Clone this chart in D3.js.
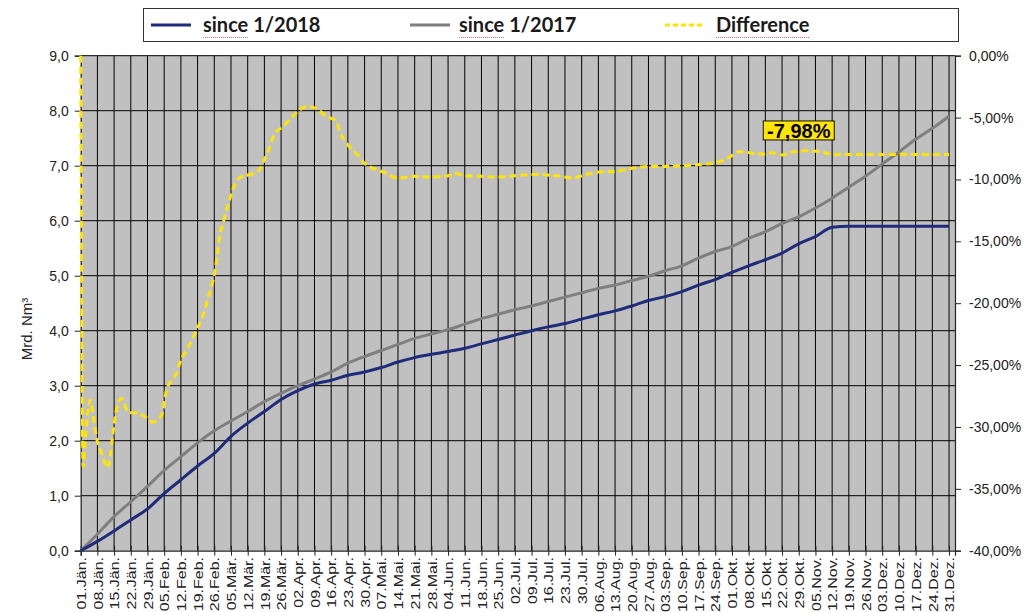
<!DOCTYPE html>
<html><head><meta charset="utf-8">
<script src="https://cdn.jsdelivr.net/npm/d3@7"></script>
<style>body{margin:0;background:#fff;} svg{display:block}</style>
</head><body>
<svg id="c" width="1027" height="612"></svg>
<script>
// ---- data ----
const weekLabels = ["01.Jän.","08.Jän.","15.Jän.","22.Jän.","29.Jän.","05.Feb.","12.Feb.","19.Feb.","26.Feb.",
 "05.Mär.","12.Mär.","19.Mär.","26.Mär.","02.Apr.","09.Apr.","16.Apr.","23.Apr.","30.Apr.","07.Mai.","14.Mai.",
 "21.Mai.","28.Mai.","04.Jun.","11.Jun.","18.Jun.","25.Jun.","02.Jul.","09.Jul.","16.Jul.","23.Jul.","30.Jul.",
 "06.Aug.","13.Aug.","20.Aug.","27.Aug.","03.Sep.","10.Sep.","17.Sep.","24.Sep.","01.Okt.","08.Okt.","15.Okt.",
 "22.Okt.","29.Okt.","05.Nov.","12.Nov.","19.Nov.","26.Nov.","03.Dez.","10.Dez.","17.Dez.","24.Dez.","31.Dez."];
const weekDays = [0,7,14,21,28,35,42,49,56,63,70,77,84,91,98,105,112,119,126,133,140,147,154,161,168,175,182,
 189,196,203,210,217,224,231,238,245,252,259,266,273,280,287,294,301,308,315,322,329,336,343,350,357,364];
const since2018 = [0,0.17,0.36,0.56,0.76,1.04,1.29,1.54,1.77,2.08,2.32,2.53,2.75,2.91,3.03,3.10,3.19,3.25,3.33,3.43,
 3.51,3.57,3.62,3.68,3.76,3.84,3.92,4.00,4.07,4.13,4.21,4.29,4.36,4.45,4.55,4.62,4.71,4.83,4.93,5.06,5.18,5.29,
 5.41,5.58,5.71,5.88,5.90,5.90,5.90,5.90,5.90,5.90,5.90];
const since2017 = [0,0.30,0.62,0.89,1.17,1.46,1.71,1.96,2.18,2.36,2.53,2.71,2.86,3.00,3.12,3.25,3.41,3.53,3.64,3.75,
 3.86,3.94,4.02,4.12,4.22,4.30,4.38,4.45,4.53,4.61,4.69,4.77,4.83,4.91,4.99,5.09,5.18,5.32,5.44,5.53,5.68,5.80,
 5.95,6.07,6.23,6.41,6.61,6.81,7.03,7.25,7.48,7.68,7.90];
const diffDays = [0,1,2,4,5,7,8,10,11,12,13,15,17,20,24,28,30,34,36,40,42,45,49,51,54,56,57,58,60,62,64,67,71,75,77,
 79,81,85,88,91,95,99,103,107,109,112,116,119,124,128,133,140,147,154,157,161,168,175,182,189,196,203,206,210,217,
 224,231,238,245,252,259,266,272,276,286,290,294,299,304,310,313,315,318,364];
const diffValues = [0,-33.2,-30.8,-27.8,-28.7,-31.2,-31.7,-32.8,-33.3,-32.9,-31.3,-28.6,-27.7,-28.8,-28.9,-29.3,-29.6,
 -29.0,-27.0,-25.7,-24.6,-23.6,-22.0,-21.1,-19.2,-17.7,-16.5,-14.9,-13.3,-11.9,-10.7,-9.8,-9.6,-9.2,-8.4,-7.5,-6.4,
 -5.7,-5.1,-4.5,-4.1,-4.3,-4.9,-5.3,-6.3,-7.2,-8.0,-8.7,-9.2,-9.5,-9.9,-9.75,-9.8,-9.7,-9.5,-9.7,-9.75,-9.8,-9.7,
 -9.6,-9.65,-9.8,-9.9,-9.7,-9.4,-9.35,-9.1,-8.95,-8.95,-8.9,-8.8,-8.65,-8.2,-7.76,-7.95,-7.84,-8.02,-7.76,-7.68,
 -7.76,-7.89,-8.02,-7.98,-7.98];
const leftTicks = [0,1,2,3,4,5,6,7,8,9];
const rightTicks = [0,-5,-10,-15,-20,-25,-30,-35,-40];
const seriesNames = ["since 1/2018","since 1/2017","Difference"];
const labelValue = -7.98;
const labelDay = 301;

// ---- layout ----
const svg = d3.select("#c");
const L = 80.7, R = 955, T = 55.7, B = 550.7;
const x = d3.scaleLinear().domain([0, 366.5]).range([L, R]);
const yL = d3.scaleLinear().domain([0, 9]).range([B, T]);
const yR = d3.scaleLinear().domain([-40, 0]).range([B, T]);
const comma = (f) => (d) => d3.format(f)(d).replace(".", ",").replace("\u2212", "-");
const FONT = "Arial, 'Liberation Sans', sans-serif";

svg.append("rect").attr("width",1027).attr("height",612).attr("fill","#fff");
svg.append("rect").attr("x",L).attr("y",T).attr("width",R-L).attr("height",B-T).attr("fill","#c0c0c0");

// gridlines
const g = svg.append("g").attr("stroke","#000").attr("stroke-width",1);
g.selectAll("line.v").data(weekDays.slice(1)).join("line")
  .attr("x1",d=>x(d)).attr("x2",d=>x(d)).attr("y1",T).attr("y2",B);
g.selectAll("line.h").data(leftTicks.slice(1)).join("line")
  .attr("x1",L).attr("x2",R).attr("y1",d=>yL(d)).attr("y2",d=>yL(d));

// axes
const axL = svg.append("g").attr("transform",`translate(${L},0)`)
  .call(d3.axisLeft(yL).tickValues(leftTicks).tickFormat(comma(".1f")).tickSize(6).tickPadding(6));
const axR = svg.append("g").attr("transform",`translate(${R},0)`)
  .call(d3.axisRight(yR).tickValues(rightTicks).tickFormat(d=>comma(".2f")(d)+"%").tickSize(6).tickPadding(8));
const axB = svg.append("g").attr("transform",`translate(0,${B})`)
  .call(d3.axisBottom(x).tickValues(weekDays).tickFormat("").tickSize(5));
[axL,axR,axB].forEach(a=>{
  a.select(".domain").attr("stroke","#222").attr("stroke-width",1.2);
  a.selectAll(".tick line").attr("stroke","#222");
  a.selectAll("text").attr("font-family",FONT).attr("font-size",14).attr("fill","#222");
});
axB.selectAll(".tick").append("line").attr("y1",-5).attr("y2",0).attr("stroke","#222");
svg.append("g").selectAll("text").data(weekDays).join("text")
  .attr("transform",(d)=>`translate(${x(d)+1},557) scale(0.75,1) rotate(-90)`)
  .attr("text-anchor","end").attr("dy","0.35em")
  .attr("font-family",FONT).attr("font-size",16).attr("fill","#222")
  .text((d,i)=>weekLabels[i]);

svg.append("text").attr("transform","translate(27,329) rotate(-90)").attr("text-anchor","middle")
  .attr("dy","0.35em").attr("font-family",FONT).attr("font-size",15).attr("fill","#222")
  .text("Mrd. Nm³");

// series
svg.append("clipPath").attr("id","pc").append("rect").attr("x",L-2).attr("y",T-2).attr("width",R-L+4).attr("height",B-T+4);
const line = d3.line().curve(d3.curveMonotoneX);
svg.append("path").attr("clip-path","url(#pc)").attr("fill","none").attr("stroke","#7f7f7f").attr("stroke-width",3)
  .attr("d", line(weekDays.map((d,i)=>[x(d), yL(since2017[i])])));
svg.append("path").attr("clip-path","url(#pc)").attr("fill","none").attr("stroke","#1f2b7b").attr("stroke-width",3)
  .attr("d", line(weekDays.map((d,i)=>[x(d), yL(since2018[i])])));
svg.append("path").attr("clip-path","url(#pc)").attr("fill","none").attr("stroke","#ffe500").attr("stroke-width",3)
  .attr("stroke-dasharray","7,4")
  .attr("d", line(diffDays.map((d,i)=>[x(d), yR(diffValues[i])])));

// data label
const lx = x(labelDay), ly = yR(labelValue) - 24;
svg.append("rect").attr("x",lx-35.5).attr("y",ly-9.5).attr("width",71).attr("height",19)
  .attr("fill","#ffe500").attr("stroke","#111").attr("stroke-width",1);
svg.append("text").attr("x",lx).attr("y",ly).attr("dy","0.36em").attr("text-anchor","middle")
  .attr("font-family",FONT).attr("font-weight","bold").attr("font-size",20)
  .attr("fill","#000").text(comma(".2f")(labelValue)+"%");

// legend
const lg = svg.append("g");
lg.append("rect").attr("x",143.5).attr("y",8.5).attr("width",815).attr("height",33).attr("fill","#fff")
  .attr("stroke","#333").attr("stroke-width",1);
const items = [
  {name:seriesNames[0], x0:151, color:"#1f2b7b", dash:null, tx:203},
  {name:seriesNames[1], x0:410, color:"#7f7f7f", dash:null, tx:459},
  {name:seriesNames[2], x0:665, color:"#ffe500", dash:"5,3", tx:716}
];
items.forEach(it=>{
  lg.append("line").attr("x1",it.x0).attr("x2",it.x0+40).attr("y1",25).attr("y2",25)
    .attr("stroke",it.color).attr("stroke-width",3).attr("stroke-dasharray",it.dash);
  lg.append("text").attr("x",it.tx).attr("y",32).attr("font-family","Lato, sans-serif")
    .attr("font-weight","bold").attr("font-size",20).attr("fill","#1a1a1a").text(it.name);
  const word = it.name.split(" ")[0];
  const tmp = lg.append("text").attr("font-family","Lato, sans-serif").attr("font-weight","bold")
    .attr("font-size",20).text(word);
  const w = tmp.node().getComputedTextLength(); tmp.remove();
  lg.append("line").attr("x1",it.tx).attr("x2",it.tx+w).attr("y1",37.5).attr("y2",37.5)
    .attr("stroke","#e87070").attr("stroke-width",1).attr("stroke-dasharray","1,1");
});
</script>
</body></html>
